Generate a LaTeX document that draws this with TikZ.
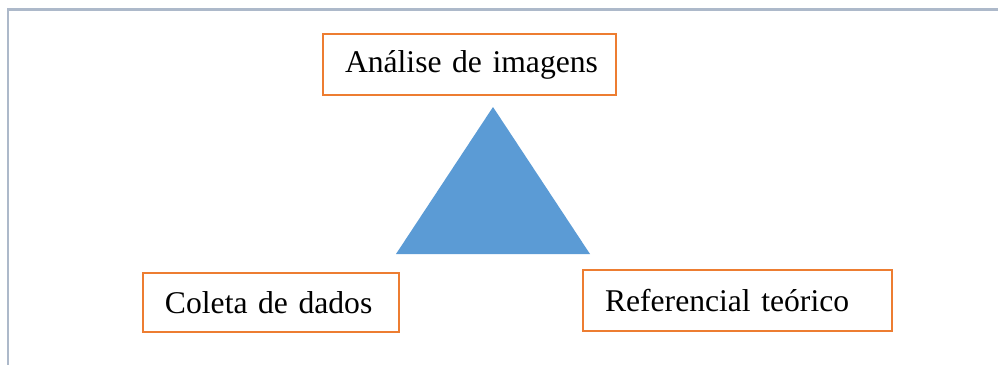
\documentclass[tikz,border=0pt]{standalone}
\usepackage{fontspec}
\setmainfont{Liberation Serif}
\usepackage{tikz}
\usetikzlibrary{positioning}
\definecolor{frame}{HTML}{ADB9CA}
\definecolor{boxline}{HTML}{ED7D31}
\definecolor{trifill}{HTML}{5B9BD5}
\tikzset{
  border/.style={line width=1.7pt, draw=frame},
  stage/.style={draw=boxline, line width=1.3pt, rectangle, align=left,
    inner xsep=0.44cm, inner ysep=0pt, font=\fontsize{18}{22}\selectfont},
  tri/.style={fill=trifill, draw=none},
}

\begin{document}
\begin{tikzpicture}
  \useasboundingbox (0,0) rectangle (19.96,-7.30);

  % page frame, top and left only
  \coordinate (FL) at (0.16,-7.30);
  \coordinate (FC) at (0.16,-0.19);
  \coordinate (FR) at (19.96,-0.19);
  \draw[border] (FL)--(FC)--(FR);

  \coordinate (A) at (9.86,-2.14);   % apex
  \coordinate (B) at (7.92,-5.08);   % base left
  \coordinate (C) at (11.80,-5.08);  % base right
  \fill[tri] (A)--(B)--(C)--cycle;

  \node[stage, text width=4.98cm, minimum height=1.22cm] (analise) at (9.39,-1.29) {\mbox{Análise de imagens}};
  \node[stage, text width=4.24cm, minimum height=1.18cm] (coleta) at (5.42,-6.05) {\mbox{Coleta de dados}};
  \node[stage, text width=5.30cm, minimum height=1.22cm] (referencial) at (14.75,-6.01) {\mbox{Referencial teórico}};
\end{tikzpicture}
\end{document}
